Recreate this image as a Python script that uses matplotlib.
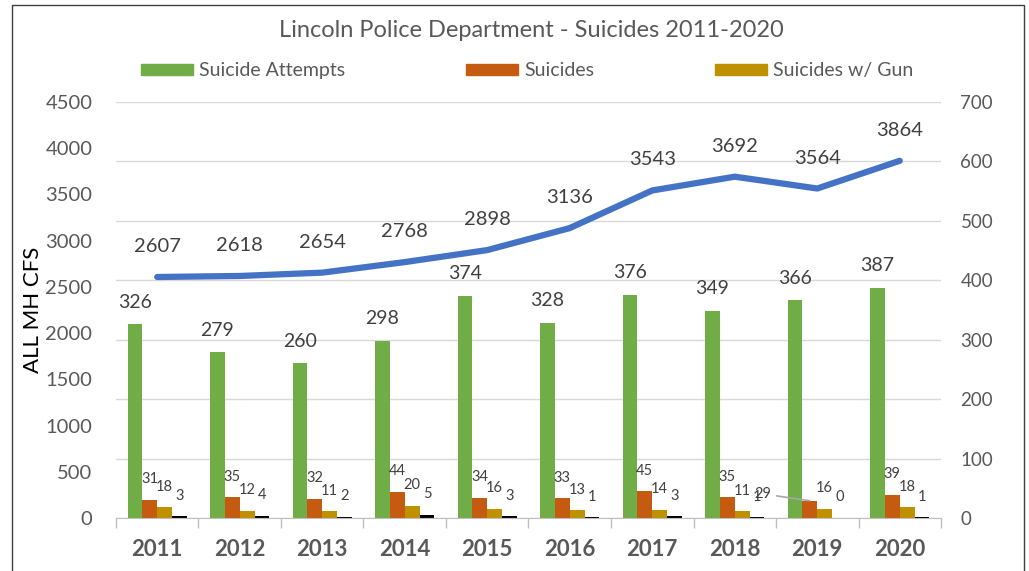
import matplotlib.pyplot as plt
import numpy as np
from matplotlib.patches import Rectangle, Patch

plt.rcParams['font.family'] = ['Lato', 'DejaVu Sans']

# Datos del grafico
years = ["2011", "2012", "2013", "2014", "2015", "2016", "2017", "2018", "2019", "2020"]
all_mh_cfs = [2607, 2618, 2654, 2768, 2898, 3136, 3543, 3692, 3564, 3864]
suicide_attempts = [326, 279, 260, 298, 374, 328, 376, 349, 366, 387]
suicides = [31, 35, 32, 44, 34, 33, 45, 35, 29, 39]
suicides_gun = [18, 12, 11, 20, 16, 13, 14, 11, 16, 18]
other = [3, 4, 2, 5, 3, 1, 3, 1, 0, 1]

verde = "#70AD47"
naranja = "#C55A11"
dorado = "#BF9000"
azul = "#4472C4"
texto = "#404040"
gris = "#595959"

fig = plt.figure(figsize=(10.29, 5.71), dpi=100)
ax = fig.add_axes([0.1127, 0.0928, 0.8018, 0.7286])
ax2 = ax.twinx()

x = np.arange(len(years))
w = 0.18

series = [
    (suicide_attempts, verde, -1.5, 14),
    (suicides, naranja, -0.5, 10.5),
    (suicides_gun, dorado, 0.5, 10.5),
    (other, "black", 1.5, 10.5),
]
for vals, col, off, fs in series:
    ax.bar(x + off * w, vals, w, color=col, zorder=2)
    for i, v in enumerate(vals):
        if vals is suicides and i == 8:
            continue
        ax.annotate(str(v), (x[i] + off * w, v), xytext=(0, 12), textcoords="offset points",
                    ha="center", va="baseline", fontsize=fs, color=texto)

# etiqueta desplazada de 2019
ax.annotate(str(suicides[8]), (x[8] - 0.5 * w, suicides[8]), xytext=(-34, 5),
            textcoords="offset points", ha="center", va="center", fontsize=10.5, color=texto,
            arrowprops=dict(arrowstyle="-", color="#A6A6A6", lw=1.2, shrinkA=2, shrinkB=0))

ax.set_ylim(0, 700)
ax.set_yticks(range(0, 701, 100))
ax.set_xlim(-0.5, 9.5)
ax.grid(axis="y", color="#D9D9D9", lw=1, zorder=0)
ax.set_axisbelow(True)
ax.set_xticks(x)
ax.set_xticklabels(years, fontweight="bold", fontsize=16, color=gris)
ax.set_xticks(np.arange(-0.5, 10, 1), minor=True)
ax.tick_params(axis="x", which="major", length=0, pad=15)
ax.tick_params(axis="x", which="minor", length=7, color="#BFBFBF", width=1)
for s in ["top", "left", "right"]:
    ax.spines[s].set_visible(False)
ax.spines["bottom"].set_color("#BFBFBF")

# Linea en el eje izquierdo
ax2.plot(x, all_mh_cfs, color=azul, lw=4.5, solid_capstyle="round", zorder=3)
for i, v in enumerate(all_mh_cfs):
    ax2.annotate(str(v), (x[i], v), xytext=(0, 18), textcoords="offset points",
                 ha="center", va="baseline", fontsize=14.5, color=texto)
ax2.set_ylim(0, 4500)
ax2.set_yticks(range(0, 4501, 500))
for s in ax2.spines.values():
    s.set_visible(False)

# ejes: barras a la derecha, linea a la izquierda
ax.yaxis.tick_right()
ax.tick_params(axis="y", length=0, labelsize=13.5, labelcolor=gris, pad=14)
ax2.yaxis.tick_left()
ax2.yaxis.set_label_position("left")
ax2.tick_params(axis="y", length=0, labelsize=14.5, labelcolor=gris, pad=17)
ax2.set_ylabel("ALL MH CFS", fontsize=16, color="black", labelpad=2)

fig.text(0.516, 0.946, "Lincoln Police Department - Suicides 2011-2020", ha="center", va="center",
         fontsize=17, color=gris)

handles = [Patch(color=verde, label="Suicide Attempts"),
           Patch(color=naranja, label="Suicides"),
           Patch(color=dorado, label="Suicides w/ Gun")]
leg = fig.legend(handles=handles, loc="center", bbox_to_anchor=(0.512, 0.876), ncol=3, frameon=False,
                 fontsize=14, handlelength=2.7, handleheight=0.55, handletextpad=0.3,
                 columnspacing=6.2)
for t in leg.get_texts():
    t.set_color(gris)

# borde exterior
fig.patches.append(Rectangle((12 / 1029, -0.05), (1024 - 12) / 1029, 1.05 - 5 / 571,
                             transform=fig.transFigure, fill=False, edgecolor="#404040", lw=1))

fig.savefig("out.png", dpi=100)
